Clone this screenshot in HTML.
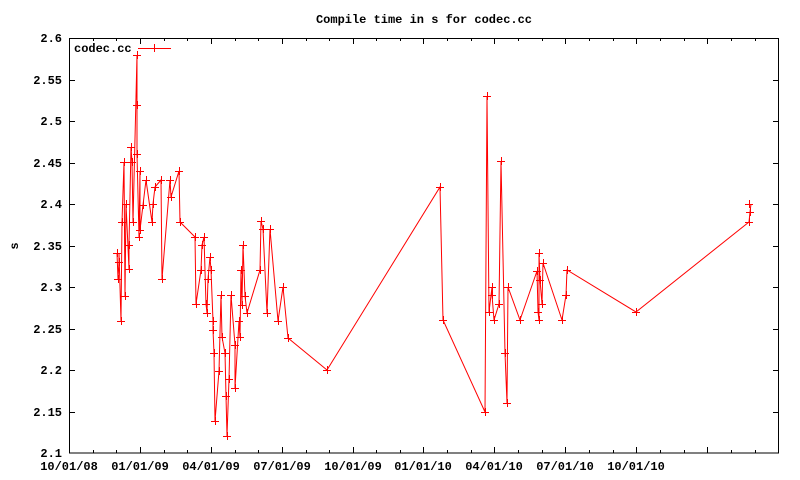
<!DOCTYPE html>
<html><head><meta charset="utf-8"><style>
body{margin:0;background:#fff}
svg{display:block}
text{font-family:"Liberation Mono",monospace;font-weight:bold;font-size:12px;fill:#000}
</style></head><body>
<svg width="800" height="480" viewBox="0 0 800 480" xmlns="http://www.w3.org/2000/svg">
<defs><path id="c" d="M-4 0.5h8M0.5-4v8" stroke="#f00" stroke-width="1" fill="none" shape-rendering="crispEdges"/></defs>
<text x="424" y="23" text-anchor="middle">Compile time in s for codec.cc</text>
<text x="18" y="246" text-anchor="middle" transform="rotate(-90 18 246)">s</text>
<g text-anchor="end">
<text x="62" y="42">2.6</text><text x="62" y="84">2.55</text><text x="62" y="125">2.5</text>
<text x="62" y="167">2.45</text><text x="62" y="208">2.4</text><text x="62" y="250">2.35</text>
<text x="62" y="291">2.3</text><text x="62" y="333">2.25</text><text x="62" y="374">2.2</text>
<text x="62" y="416">2.15</text><text x="62" y="457">2.1</text>
</g>
<g text-anchor="middle">
<text x="69" y="470">10/01/08</text><text x="140" y="470">01/01/09</text><text x="211" y="470">04/01/09</text>
<text x="282" y="470">07/01/09</text><text x="353" y="470">10/01/09</text><text x="423" y="470">01/01/10</text>
<text x="494" y="470">04/01/10</text><text x="565" y="470">07/01/10</text><text x="636" y="470">10/01/10</text>
</g>
<g stroke="#000" stroke-width="1" fill="none" shape-rendering="crispEdges">
<rect x="69.5" y="38.5" width="709" height="414.5"/>
<path d="M69 80.5h6M69 121.5h6M69 163.5h6M69 204.5h6M69 246.5h6M69 287.5h6M69 329.5h6M69 370.5h6M69 412.5h6
M779 80.5h-6M779 121.5h-6M779 163.5h-6M779 204.5h-6M779 246.5h-6M779 287.5h-6M779 329.5h-6M779 370.5h-6M779 412.5h-6"/>
<path d="M140.5 453v-6M211.5 453v-6M282.5 453v-6M353.5 453v-6M423.5 453v-6M494.5 453v-6M565.5 453v-6M636.5 453v-6M707.5 453v-6
M140.5 38v6M211.5 38v6M282.5 38v6M353.5 38v6M423.5 38v6M494.5 38v6M565.5 38v6M636.5 38v6M707.5 38v6
M93.5 453v-3M116.5 453v-3M164.5 453v-3M187.5 453v-3M235.5 453v-3M258.5 453v-3M306.5 453v-3M329.5 453v-3M376.5 453v-3M400.5 453v-3M447.5 453v-3M471.5 453v-3M518.5 453v-3M542.5 453v-3M589.5 453v-3M613.5 453v-3M660.5 453v-3M684.5 453v-3M731.5 453v-3M755.5 453v-3
M93.5 38v3M116.5 38v3M164.5 38v3M187.5 38v3M235.5 38v3M258.5 38v3M306.5 38v3M329.5 38v3M376.5 38v3M400.5 38v3M447.5 38v3M471.5 38v3M518.5 38v3M542.5 38v3M589.5 38v3M613.5 38v3M660.5 38v3M684.5 38v3M731.5 38v3M755.5 38v3"/>
</g>
<text x="74" y="52" text-anchor="start">codec.cc</text>
<path d="M138 48.5h33" stroke="#f00" shape-rendering="crispEdges"/><use href="#c" x="154" y="48"/>
<polyline fill="none" stroke="#f00" stroke-width="1" points="
117,253 118,279 119,262 119,253 121,321 122,222 124,162 125,296 126,204 129,269 129,245 131,147 132,162 133,222 137,55 137,105 137,154 139,237 140,171 140,230 143,205 146,180 152,222 153,204 155,187 161,180 162,279 170,180 171,197 179,171 180,222
195,237 196,304 201,270 202,245 204,237 206,304 207,313 208,279 210,257 211,270 213,321 213,330 214,353 215,421 219,371 221,295 222,337 225,353 226,396 227,436 229,379 231,295 235,345 235,388 239,321 240,337 241,270 242,305 243,245 245,296 247,313 260,270 261,221 263,229 267,313 270,229 278,321 283,287 288,338 327,370
440,187 443,320 485,412 487,96 489,312 492,287 492,295 494,320 499,304 501,161 505,353 507,403 508,287 520,320 537,271 538,312 539,320 539,253 540,280 542,304 543,263 562,320 566,295 567,270 636,312 749,222 750,212 751,204"/>
<g>
<use href="#c" x="117" y="253"/><use href="#c" x="118" y="279"/><use href="#c" x="119" y="262"/><use href="#c" x="121" y="321"/><use href="#c" x="122" y="222"/><use href="#c" x="124" y="162"/><use href="#c" x="125" y="296"/><use href="#c" x="126" y="204"/><use href="#c" x="129" y="269"/><use href="#c" x="129" y="245"/><use href="#c" x="131" y="147"/><use href="#c" x="132" y="162"/><use href="#c" x="133" y="222"/><use href="#c" x="137" y="55"/><use href="#c" x="137" y="105"/><use href="#c" x="137" y="154"/><use href="#c" x="139" y="237"/><use href="#c" x="140" y="171"/><use href="#c" x="140" y="230"/><use href="#c" x="143" y="205"/><use href="#c" x="146" y="180"/><use href="#c" x="152" y="222"/><use href="#c" x="153" y="204"/><use href="#c" x="155" y="187"/><use href="#c" x="161" y="180"/><use href="#c" x="162" y="279"/><use href="#c" x="170" y="180"/><use href="#c" x="171" y="197"/><use href="#c" x="179" y="171"/><use href="#c" x="180" y="222"/>
<use href="#c" x="195" y="237"/><use href="#c" x="196" y="304"/><use href="#c" x="201" y="270"/><use href="#c" x="202" y="245"/><use href="#c" x="204" y="237"/><use href="#c" x="206" y="304"/><use href="#c" x="207" y="313"/><use href="#c" x="208" y="279"/><use href="#c" x="210" y="257"/><use href="#c" x="211" y="270"/><use href="#c" x="213" y="321"/><use href="#c" x="213" y="330"/><use href="#c" x="214" y="353"/><use href="#c" x="215" y="421"/><use href="#c" x="219" y="371"/><use href="#c" x="221" y="295"/><use href="#c" x="222" y="337"/><use href="#c" x="225" y="353"/><use href="#c" x="226" y="396"/><use href="#c" x="227" y="436"/><use href="#c" x="229" y="379"/><use href="#c" x="231" y="295"/><use href="#c" x="235" y="345"/><use href="#c" x="235" y="388"/><use href="#c" x="239" y="321"/><use href="#c" x="240" y="337"/><use href="#c" x="241" y="270"/><use href="#c" x="242" y="305"/><use href="#c" x="243" y="245"/><use href="#c" x="245" y="296"/><use href="#c" x="247" y="313"/><use href="#c" x="260" y="270"/><use href="#c" x="261" y="221"/><use href="#c" x="263" y="229"/><use href="#c" x="267" y="313"/><use href="#c" x="270" y="229"/><use href="#c" x="278" y="321"/><use href="#c" x="283" y="287"/><use href="#c" x="288" y="338"/><use href="#c" x="327" y="370"/>
<use href="#c" x="440" y="187"/><use href="#c" x="443" y="320"/><use href="#c" x="485" y="412"/><use href="#c" x="487" y="96"/><use href="#c" x="489" y="312"/><use href="#c" x="492" y="287"/><use href="#c" x="492" y="295"/><use href="#c" x="494" y="320"/><use href="#c" x="499" y="304"/><use href="#c" x="501" y="161"/><use href="#c" x="505" y="353"/><use href="#c" x="507" y="403"/><use href="#c" x="508" y="287"/><use href="#c" x="520" y="320"/><use href="#c" x="537" y="271"/><use href="#c" x="538" y="312"/><use href="#c" x="539" y="320"/><use href="#c" x="539" y="253"/><use href="#c" x="540" y="280"/><use href="#c" x="542" y="304"/><use href="#c" x="543" y="263"/><use href="#c" x="562" y="320"/><use href="#c" x="566" y="295"/><use href="#c" x="567" y="270"/><use href="#c" x="636" y="312"/><use href="#c" x="749" y="222"/><use href="#c" x="750" y="212"/><use href="#c" x="749" y="204"/>
</g>
</svg>
</body></html>
